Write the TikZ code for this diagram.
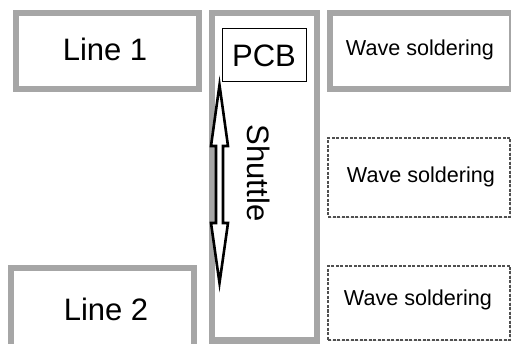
\documentclass[tikz,border=0pt]{standalone}
\usepackage{fontspec}
\setmainfont{Liberation Sans}
\usetikzlibrary{shadows}
\definecolor{boxgray}{HTML}{A6A6A6}
\definecolor{dashgray}{HTML}{505050}
\begin{document}
\begin{tikzpicture}[x=1pt,y=-1pt,
  graybox/.style={draw=boxgray, line width=6pt, fill=white, inner sep=0pt,
    drop shadow={shadow xshift=0.5pt, shadow yshift=-2pt, opacity=0.25}},
  dashbox/.style={draw=dashgray, line width=2.8pt, dash pattern=on 3pt off 1.5pt, fill=white, inner sep=0pt,
    drop shadow={shadow xshift=0.5pt, shadow yshift=-1.5pt, opacity=0.2}},
  bigtxt/.style={font=\fontsize{31}{36}\selectfont},
  smalltxt/.style={font=\fontsize{21.6}{26}\selectfont}]
\useasboundingbox (0,0) rectangle (511,344);
\clip (0,0) rectangle (511,344);
\fill[white] (0,0) rectangle (511,344);
% boxes
\node[graybox, bigtxt, minimum width=182.5pt, minimum height=76.5pt] (line1) at (107.25,51.25) {};
\node[bigtxt] (line1t) at (105,49) {Line 1};
\node[graybox, minimum width=105pt, minimum height=327.5pt] (shuttle) at (264,176.75) {};
\node[graybox, minimum width=182pt, minimum height=76.5pt] (wave1) at (421,51.25) {};
\node[smalltxt] (wave1t) at (420,50) {Wave soldering};
\node[graybox, minimum width=183pt, minimum height=81.5pt] (line2) at (102,309.25) {};
\node[bigtxt] (line2t) at (106,309) {Line 2};
\node[dashbox, minimum width=182pt, minimum height=79pt] (wave2) at (419,177.5) {};
\node[smalltxt] (wave2t) at (421,177) {Wave soldering};
\node[dashbox, minimum width=182pt, minimum height=74pt] (wave3) at (419,303) {};
\node[smalltxt] (wave3t) at (418,300) {Wave soldering};
% PCB
\node[draw=black, line width=1pt, fill=white, minimum width=84pt, minimum height=53pt, inner sep=0pt, bigtxt] (pcb) at (264,55.5) {PCB};
% Shuttle text
\node[bigtxt, rotate=-90] (shuttlet) at (259,173) {Shuttle};
% double arrow
\draw[black, line width=2.6pt, line join=miter, fill=white]
  (219.5,85) -- (228,146) -- (223,146) -- (223,223) -- (228,223) -- (219.5,283)
  -- (211,223) -- (216,223) -- (216,146) -- (211,146) -- cycle;
\end{tikzpicture}
\end{document}
